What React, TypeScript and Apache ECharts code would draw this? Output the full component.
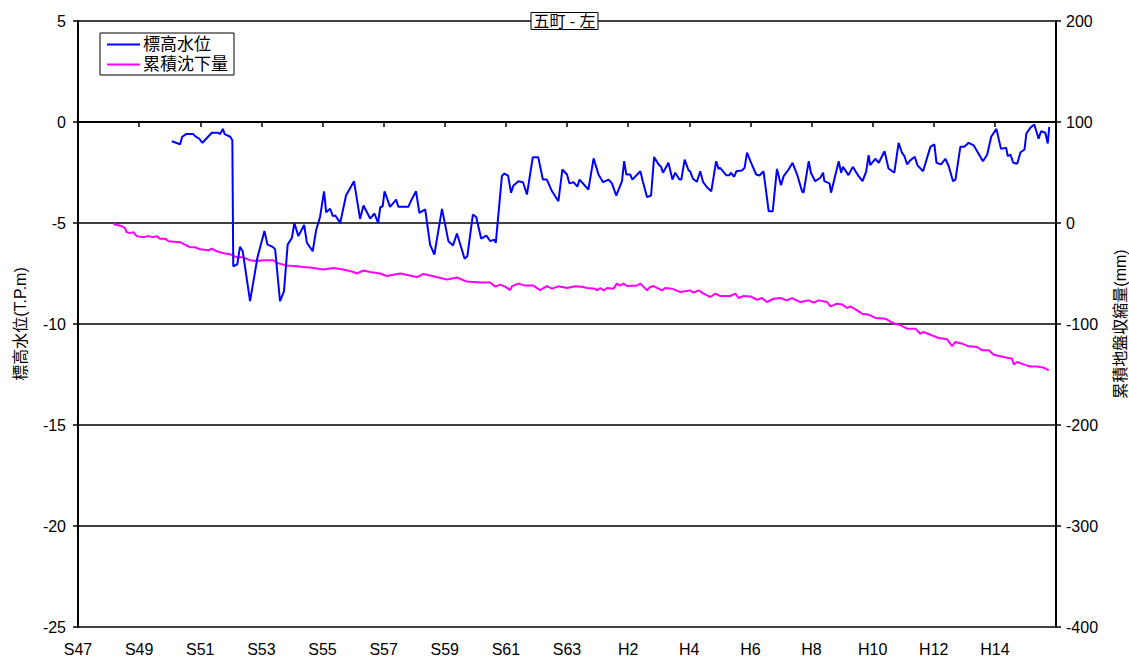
import React, { useEffect, useRef } from "react";
import * as echarts from "echarts";

// x values: decimal calendar years
const levelYears = [
  1975.07, 1975.34, 1975.41, 1975.54, 1975.77, 1975.83, 1975.97, 1976.07, 1976.38, 1976.59,
  1976.65, 1976.74, 1976.8, 1976.98, 1977.05, 1977.08, 1977.21, 1977.3, 1977.39, 1977.63,
  1977.87, 1978.1, 1978.2, 1978.37, 1978.45, 1978.61, 1978.74, 1978.86, 1979.0, 1979.08,
  1979.21, 1979.4, 1979.49, 1979.68, 1979.79, 1979.92, 1980.05, 1980.12, 1980.25, 1980.34,
  1980.42, 1980.58, 1980.77, 1981.03, 1981.23, 1981.34, 1981.56, 1981.7, 1981.82, 1981.89,
  1981.97, 1982.03, 1982.21, 1982.41, 1982.48, 1982.81, 1982.89, 1983.06, 1983.17, 1983.36,
  1983.52, 1983.66, 1983.91, 1984.12, 1984.27, 1984.4, 1984.65, 1984.74, 1984.92, 1985.03,
  1985.19, 1985.36, 1985.49, 1985.62, 1985.67, 1985.87, 1985.94, 1986.07, 1986.17, 1986.25,
  1986.41, 1986.56, 1986.69, 1986.88, 1987.06, 1987.21, 1987.34, 1987.51, 1987.72, 1987.85,
  1988.0, 1988.08, 1988.21, 1988.34, 1988.41, 1988.7, 1988.87, 1989.03, 1989.18, 1989.36,
  1989.47, 1989.61, 1989.8, 1989.87, 1989.94, 1990.07, 1990.14, 1990.4, 1990.48, 1990.62,
  1990.75, 1990.85, 1991.0, 1991.08, 1991.14, 1991.32, 1991.45, 1991.54, 1991.68, 1991.74,
  1991.85, 1991.98, 1992.03, 1992.12, 1992.25, 1992.36, 1992.45, 1992.58, 1992.72, 1992.88,
  1992.96, 1993.01, 1993.21, 1993.32, 1993.36, 1993.47, 1993.54, 1993.72, 1993.81, 1993.89,
  1994.0, 1994.19, 1994.3, 1994.43, 1994.6, 1994.73, 1994.87, 1995.0, 1995.09, 1995.25,
  1995.38, 1995.53, 1995.69, 1995.74, 1995.91, 1995.98, 1996.12, 1996.29, 1996.38, 1996.42,
  1996.59, 1996.64, 1996.72, 1996.89, 1996.97, 1997.03, 1997.21, 1997.35, 1997.54, 1997.67,
  1997.79, 1997.87, 1997.92, 1998.09, 1998.2, 1998.39, 1998.52, 1998.71, 1998.85, 1998.96,
  1999.04, 1999.13, 1999.23, 1999.38, 1999.47, 1999.65, 1999.89, 2000.02, 2000.09, 2000.24,
  2000.38, 2000.49, 2000.63, 2000.71, 2000.87, 2001.0, 2001.14, 2001.31, 2001.61, 2001.75,
  2001.88, 2002.05, 2002.2, 2002.37, 2002.42, 2002.51, 2002.6, 2002.73, 2002.84, 2002.97,
  2003.03, 2003.16, 2003.29, 2003.43, 2003.51, 2003.65, 2003.73, 2003.78,
];

// 標高水位 (T.P.m)
const levelValues = [
  -0.95, -1.1, -0.73, -0.6, -0.6, -0.7, -0.83, -1.03, -0.53, -0.53,
  -0.6, -0.34, -0.6, -0.73, -0.9, -7.14, -7.05, -6.18, -6.4, -8.87,
  -6.72, -5.4, -6.07, -6.18, -6.3, -8.87, -8.38, -6.07, -5.73, -5.0,
  -5.65, -5.1, -5.98, -6.4, -5.36, -4.7, -3.43, -4.47, -4.3, -4.66,
  -4.63, -5.0, -3.64, -2.93, -4.8, -4.13, -4.78, -4.53, -5.0, -4.22,
  -4.17, -3.43, -4.2, -3.84, -4.2, -4.2, -3.92, -3.43, -4.5, -4.33,
  -6.07, -6.56, -4.3, -5.9, -6.11, -5.52, -6.77, -6.64, -4.58, -4.7,
  -5.77, -5.62, -5.9, -5.82, -5.98, -2.68, -2.55, -2.65, -3.5, -3.14,
  -2.93, -2.98, -3.59, -1.75, -1.75, -2.85, -2.85, -3.43, -3.92, -2.35,
  -2.6, -3.04, -2.98, -3.2, -2.85, -3.34, -1.8, -2.6, -2.98, -2.85,
  -3.04, -3.64, -2.93, -1.94, -2.6, -2.6, -2.85, -2.44, -2.93, -3.72,
  -3.64, -1.74, -2.1, -2.22, -2.51, -2.02, -2.85, -2.51, -2.85, -2.85,
  -1.86, -2.4, -2.44, -2.81, -2.96, -2.44, -2.96, -3.23, -3.43, -1.94,
  -2.32, -2.27, -2.63, -2.63, -2.51, -2.71, -2.44, -2.4, -2.27, -1.52,
  -1.94, -2.6, -2.65, -2.44, -4.42, -4.42, -2.32, -3.13, -2.68, -2.35,
  -2.02, -2.6, -3.43, -3.5, -1.94, -2.51, -2.93, -2.76, -2.51, -2.93,
  -3.04, -3.5, -3.01, -1.94, -2.51, -2.22, -2.63, -2.22, -2.68, -2.93,
  -2.44, -1.64, -2.14, -1.82, -2.02, -1.45, -2.3, -2.51, -1.03, -1.52,
  -1.69, -2.1, -1.9, -1.72, -2.15, -2.44, -1.23, -1.11, -2.02, -2.1,
  -1.82, -2.19, -2.93, -2.85, -1.23, -1.23, -1.03, -1.16, -1.94, -1.61,
  -0.73, -0.34, -1.33, -1.28, -1.69, -1.61, -2.02, -2.07, -1.5, -1.36,
  -0.57, -0.29, -0.12, -0.83, -0.46, -0.53, -1.06, -0.24,
];

const subsidenceYears = [
  1973.16, 1973.27, 1973.43, 1973.54, 1973.59, 1973.7, 1973.81, 1973.92, 1974.14, 1974.3,
  1974.46, 1974.58, 1974.68, 1974.85, 1974.96, 1975.34, 1975.5, 1975.67, 1975.83, 1975.99,
  1976.27, 1976.38, 1976.54, 1976.76, 1976.98, 1977.2, 1977.41, 1977.63, 1977.85, 1978.07,
  1978.39, 1978.56, 1978.83, 1979.05, 1979.37, 1979.59, 1980.03, 1980.36, 1980.68, 1981.01,
  1981.12, 1981.34, 1981.56, 1981.89, 1982.1, 1982.54, 1983.09, 1983.3, 1983.52, 1984.07,
  1984.4, 1984.72, 1985.16, 1985.49, 1985.65, 1985.81, 1985.98, 1986.14, 1986.2, 1986.41,
  1986.63, 1986.9, 1987.12, 1987.34, 1987.51, 1987.72, 1988.0, 1988.27, 1988.54, 1988.65,
  1988.92, 1988.98, 1989.09, 1989.2, 1989.31, 1989.52, 1989.63, 1989.74, 1989.85, 1989.96,
  1990.29, 1990.4, 1990.62, 1990.72, 1990.83, 1991.11, 1991.21, 1991.43, 1991.71, 1992.03,
  1992.14, 1992.3, 1992.47, 1992.69, 1992.85, 1993.01, 1993.34, 1993.51, 1993.61, 1993.78,
  1994.0, 1994.22, 1994.38, 1994.54, 1994.76, 1994.98, 1995.2, 1995.36, 1995.63, 1995.91,
  1996.07, 1996.23, 1996.51, 1996.62, 1996.83, 1997.0, 1997.16, 1997.27, 1997.49, 1997.65,
  1997.87, 1998.09, 1998.42, 1998.64, 1998.91, 1999.13, 1999.4, 1999.56, 1999.67, 1999.89,
  2000.16, 2000.44, 2000.6, 2000.71, 2000.93, 2001.14, 2001.42, 2001.58, 2001.8, 2001.96,
  2002.29, 2002.56, 2002.62, 2002.73, 2002.94, 2003.16, 2003.38, 2003.6, 2003.76,
];

// 累積沈下量 (mm)
const subsidenceValues = [
  -1, -2, -3, -5, -9, -10, -9, -13, -14, -13,
  -14, -13, -15.5, -15.5, -18, -19, -21.5, -24, -24, -26,
  -27, -25.5, -28, -30, -31, -34, -34, -37, -37.6, -37,
  -37, -40, -42, -42.5, -43.6, -44, -46, -44.6, -46, -48.5,
  -50, -47, -48.5, -50, -52.5, -50, -53.5, -50.5, -52, -56,
  -54, -58, -59, -59, -63, -61, -63, -66.5, -62.5, -60,
  -62, -62, -66.5, -62.5, -65, -62.7, -64.4, -62.7, -63.4, -64.4,
  -65, -66.7, -64.4, -66.7, -64.4, -65, -60, -62, -60, -62.4,
  -62, -60, -66.7, -63.4, -62.4, -66.7, -64.4, -65, -68.3, -66.7,
  -69, -66.7, -70, -73.3, -70, -72.3, -72.3, -70, -74.3, -72.3,
  -72.7, -76, -74.3, -78.2, -75, -74.3, -76.6, -74.3, -78.2, -76.6,
  -78.9, -76.6, -78.2, -82.6, -80, -80.6, -84.2, -82.6, -86.5, -89.8,
  -90.8, -94, -94.7, -98.7, -101.4, -104.6, -104.6, -109.6, -107.9, -110.6,
  -113.9, -115.2, -122, -117.8, -119.5, -122.1, -122.8, -126.1, -126.1, -130.4,
  -132.7, -134.3, -140, -137.6, -140, -142, -142, -143.3, -146,
];

const chartTitle = "五町 - 左";
const levelName = "標高水位";
const subsidenceName = "累積沈下量";
const leftAxisName = "標高水位(T.P.m)";
const rightAxisName = "累積地盤収縮量(mm)";

const FONT = "'Liberation Sans', 'Noto Sans CJK JP', sans-serif";

function eraLabel(v: number): string {
  const y = Math.round(v);
  if (y >= 2004) return "";
  if (y <= 1988) return "S" + (y - 1925);
  return "H" + (y - 1988);
}

export default function App() {
  const ref = useRef<HTMLDivElement>(null);
  useEffect(() => {
    document.body.style.margin = "0";
    if (!ref.current) return;
    const chart = echarts.init(ref.current, undefined, { renderer: "svg" });
    const levelData = levelYears.map((x, i) => [x, levelValues[i]]);
    const subsData = subsidenceYears.map((x, i) => [x, subsidenceValues[i]]);
    chart.setOption({
      animation: false,
      backgroundColor: "#ffffff",
      textStyle: { fontFamily: FONT },
      title: {
        text: chartTitle,
        left: "center",
        top: 12,
        padding: [1, 3, 1, 3],
        borderColor: "#000",
        borderWidth: 1,
        backgroundColor: "#fff",
        textStyle: { fontSize: 16, fontWeight: "normal", color: "#000", fontFamily: FONT },
      },
      legend: {
        orient: "vertical",
        left: 100,
        top: 33,
        padding: [3, 6, 2, 7],
        itemGap: 3,
        itemWidth: 33,
        itemHeight: 2,
        icon: "rect",
        borderColor: "#000",
        borderWidth: 1,
        backgroundColor: "#fff",
        textStyle: { fontSize: 17, color: "#000", fontFamily: FONT, padding: [0, 0, 0, -2] },
        data: [levelName, subsidenceName],
      },
      grid: { left: 78, right: 73, top: 21, bottom: 35, containLabel: false, outerBoundsMode: "none" },
      xAxis: {
        type: "value",
        min: 1972,
        max: 2004,
        interval: 2,
        axisLine: { show: true, lineStyle: { color: "#000", width: 2 } },
        axisTick: { show: true, length: 5, lineStyle: { color: "#000", width: 1.5 } },
        axisLabel: { formatter: eraLabel, fontSize: 16, color: "#000", margin: 14, fontFamily: FONT, showMaxLabel: true },
        splitLine: { show: false },
      },
      yAxis: [
        {
          type: "value",
          min: -25,
          max: 5,
          interval: 5,
          position: "left",
          name: leftAxisName,
          nameLocation: "middle",
          nameRotate: 90,
          nameGap: 50,
          nameTextStyle: { fontSize: 16, color: "#000", fontFamily: FONT },
          axisLine: { show: true, lineStyle: { color: "#000", width: 2 } },
          axisTick: { show: true, length: 5, lineStyle: { color: "#000", width: 1.5 } },
          axisLabel: { fontSize: 16, color: "#000", margin: 12, fontFamily: FONT },
          splitLine: { show: true, lineStyle: { color: "#000", width: 1.5 } },
        },
        {
          type: "value",
          min: -400,
          max: 200,
          interval: 100,
          position: "right",
          name: rightAxisName,
          nameLocation: "middle",
          nameRotate: 90,
          nameGap: 56,
          nameTextStyle: { fontSize: 16, color: "#000", fontFamily: FONT },
          axisLine: { show: true, lineStyle: { color: "#000", width: 2 } },
          axisTick: { show: true, length: 5, lineStyle: { color: "#000", width: 1.5 } },
          axisLabel: { fontSize: 16, color: "#000", margin: 10, fontFamily: FONT },
          splitLine: { show: false },
        },
      ],
      series: [
        {
          name: levelName,
          type: "line",
          yAxisIndex: 0,
          data: levelData,
          showSymbol: false,
          symbol: "none",
          color: "#0000ff",
          lineStyle: { color: "#0000ff", width: 2 },
          z: 3,
        },
        {
          name: subsidenceName,
          type: "line",
          yAxisIndex: 1,
          data: subsData,
          showSymbol: false,
          symbol: "none",
          color: "#ff00ff",
          lineStyle: { color: "#ff00ff", width: 2 },
          z: 2,
        },
      ],
    });
    return () => chart.dispose();
  }, []);
  return <div ref={ref} style={{ width: 1129, height: 662 }} />;
}
